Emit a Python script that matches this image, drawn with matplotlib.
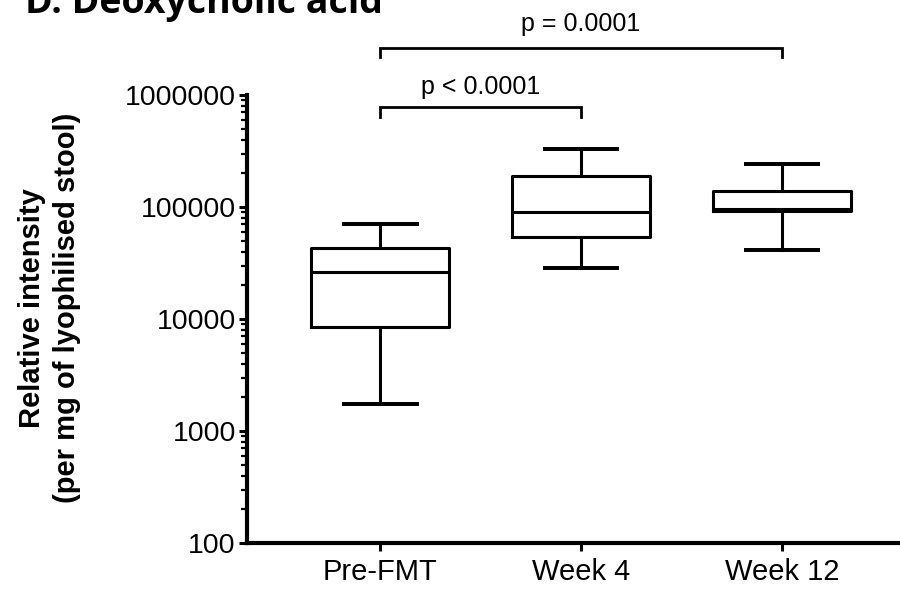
import matplotlib
matplotlib.use('Agg')
import matplotlib.pyplot as plt
import matplotlib.ticker as mticker
import matplotlib.transforms as mtransforms

plt.rcParams['font.family'] = ['Liberation Sans', 'DejaVu Sans']

# box statistics (relative intensity)
groups = ['Pre-FMT', 'Week 4', 'Week 12']
whislo = [1740, 28500, 41300]
q1 = [8500, 54000, 92000]
med = [26300, 90000, 95000]
q3 = [43000, 189000, 139000]
whishi = [70500, 330000, 242000]

# significance brackets: (from group, to group, label)
brackets = [(0, 2, 'p = 0.0001'), (0, 1, 'p < 0.0001')]

fig = plt.figure(figsize=(9, 6.08), dpi=100)
ax = fig.add_axes([0.2744, 0.1069, 0.7256, 0.7369])

stats = []
for i in range(len(groups)):
    stats.append({'whislo': whislo[i], 'q1': q1[i], 'med': med[i],
                  'q3': q3[i], 'whishi': whishi[i], 'fliers': []})

lw = 2.2
positions = [1, 2, 3]
ax.bxp(stats, positions=positions, widths=0.686, capwidths=0.363,
       showfliers=False,
       boxprops=dict(color='black', linewidth=lw),
       medianprops=dict(color='black', linewidth=lw),
       whiskerprops=dict(color='black', linewidth=lw),
       capprops=dict(color='black', linewidth=lw * 1.3))

ax.set_yscale('log')
ax.set_ylim(100, 1000000)
ax.set_xlim(0.338, 3.587)

ax.yaxis.set_major_locator(mticker.FixedLocator([100, 1000, 10000, 100000, 1000000]))
ax.yaxis.set_major_formatter(mticker.FuncFormatter(lambda v, p: '%d' % round(v)))
ax.yaxis.set_minor_locator(mticker.LogLocator(base=10, subs=range(2, 10)))
ax.yaxis.set_minor_formatter(mticker.NullFormatter())

ax.set_xticks(positions)
ax.set_xticklabels(groups)

for s in ['top', 'right']:
    ax.spines[s].set_visible(False)
for s in ['left', 'bottom']:
    ax.spines[s].set_linewidth(3)

ax.tick_params(axis='both', which='major', direction='out', length=6,
               width=2.2, labelsize=21, pad=5, colors='black')
ax.tick_params(axis='y', which='major', labelsize=20.5, pad=2)
ax.tick_params(axis='y', which='minor', direction='out', length=4, width=1.6)

# y label (two lines)
fig.text(0.055, 1 - 308 / 608, 'Relative intensity\n(per mg of lyophilised stool)',
         rotation=90, ha='center', va='center', multialignment='center',
         fontsize=21, fontweight='bold', linespacing=1.3)

# significance brackets above the boxes
trans = mtransforms.blended_transform_factory(ax.transData, ax.transAxes)
bracket_y = [1.105, 0.973]
bracket_tip = [0.02, 0.022]
label_y = [1.143, 1.002]
for k, (a, b, lab) in enumerate(brackets):
    y0 = bracket_y[k]
    xa, xb = positions[a], positions[b]
    ax.plot([xa, xa, xb, xb], [y0 - bracket_tip[k], y0, y0, y0 - bracket_tip[k]],
            color='black', linewidth=2, transform=trans, clip_on=False,
            solid_joinstyle='miter')
    ax.text((xa + xb) / 2, label_y[k], lab, transform=trans, ha='center',
            va='baseline', fontsize=18)

# panel title, partly cut off at the top of the figure
fig.text(25 / 900, 1 - 13 / 608, 'D. Deoxycholic acid', ha='left', va='baseline',
         fontsize=27, fontweight='bold', family=['Open Sans', 'DejaVu Sans'])

fig.savefig('out.png', dpi=100)
